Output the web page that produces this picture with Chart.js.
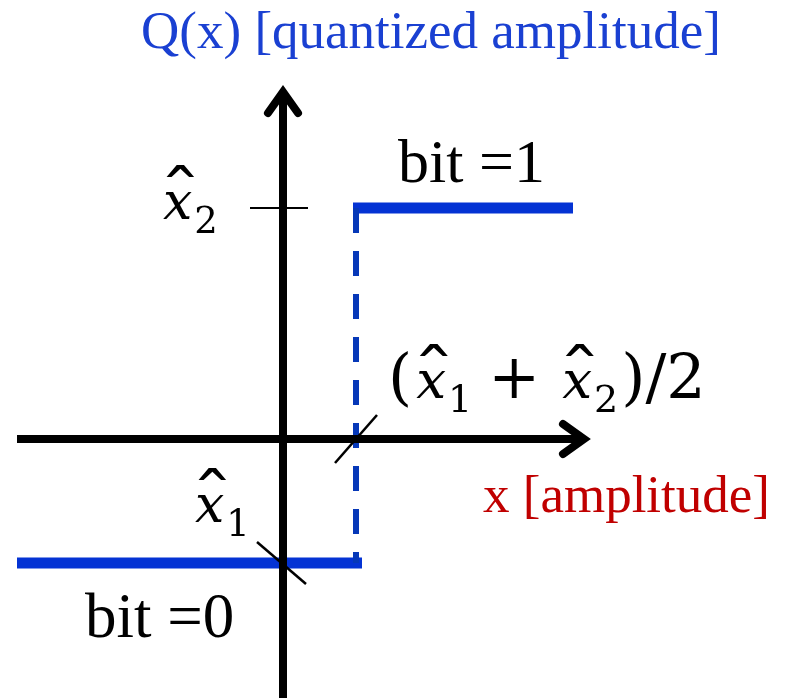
<!DOCTYPE html>
<html>
<head>
<meta charset="utf-8">
<script src="https://cdn.jsdelivr.net/npm/chart.js@4"></script>
<style>
  html, body { margin: 0; padding: 0; background: #fff; }
  #wrap { width: 786px; height: 698px; }
</style>
</head>
<body>
<div id="wrap"><canvas id="quantizer"></canvas></div>
<script>
// values (units: x = amplitude, y = Q(x), origin at the axes crossing)
const levels = [-124, 231];          // x̂1, x̂2
const threshold = 73;                // (x̂1 + x̂2)/2
const lowerStepX = [-266, 79];
const upperStepX = [70, 290];
const xAxisX = [-266, 301];
const yAxisY = [-259, 347];
const arrowBack = 21;                // arrow arm length along the axis
const arrowSpread = 15;
const tickHalf = [-33, 25];          // small tick on the y axis at x̂2
const slashMid = [[52, -24], [94, 24]];
const slashLow = [[-26, -103], [23, -145]];

const BLUE = '#0433d4';
const DASH_BLUE = '#0638b8';

function seg(xs, y) {
  return xs.map(x => ({ x, y }));
}

const datasets = [
  // axes
  { data: seg(xAxisX, 0), borderColor: '#000', borderWidth: 8 },
  { data: yAxisY.map(y => ({ x: 0, y })), borderColor: '#000', borderWidth: 8 },
  {
    data: [
      { x: xAxisX[1] - arrowBack, y: arrowSpread },
      { x: xAxisX[1], y: 0 },
      { x: xAxisX[1] - arrowBack, y: -arrowSpread }
    ],
    borderColor: '#000', borderWidth: 8, borderCapStyle: 'round', borderJoinStyle: 'miter'
  },
  {
    data: [
      { x: -arrowSpread, y: yAxisY[1] - arrowBack },
      { x: 0, y: yAxisY[1] },
      { x: arrowSpread, y: yAxisY[1] - arrowBack }
    ],
    borderColor: '#000', borderWidth: 8, borderCapStyle: 'round', borderJoinStyle: 'miter'
  },
  // tick marks
  { data: seg(tickHalf, levels[1]), borderColor: '#000', borderWidth: 2 },
  { data: slashMid.map(p => ({ x: p[0], y: p[1] })), borderColor: '#000', borderWidth: 2.5 },
  { data: slashLow.map(p => ({ x: p[0], y: p[1] })), borderColor: '#000', borderWidth: 2.5 },
  // quantizer
  { data: [{ x: threshold, y: levels[1] }, { x: threshold, y: levels[0] }],
    borderColor: DASH_BLUE, borderWidth: 6, borderDash: [25, 18] },
  { data: seg(lowerStepX, levels[0]), borderColor: BLUE, borderWidth: 11 },
  { data: seg(upperStepX, levels[1]), borderColor: BLUE, borderWidth: 11 }
];
datasets.forEach(d => {
  d.showLine = true;
  d.pointRadius = 0;
  d.fill = false;
});

// x with a wide hat and a subscript, returns the advance
function drawXhat(ctx, x, y, sub, size) {
  ctx.font = `italic ${size}px "DejaVu Serif"`;
  const w = ctx.measureText('x').width;
  ctx.fillText('x', x, y);
  ctx.font = `${size}px "DejaVu Serif"`;
  const hw = ctx.measureText('\u02c6').width * 1.7;
  ctx.save();
  ctx.translate(x + w / 2 - hw / 2 + size * 0.05, y - size * 0.04);
  ctx.scale(1.7, 1.25);
  ctx.fillText('\u02c6', 0, 0);
  ctx.restore();
  ctx.font = `${Math.round(size * 0.72)}px "DejaVu Serif"`;
  ctx.fillText(sub, x + w + 2, y + size * 0.26);
  return w + 2 + ctx.measureText(sub).width;
}

function drawMath(ctx, x, y, parts, size, upright) {
  let cx = x;
  parts.forEach(p => {
    if (p.xhat) {
      cx += drawXhat(ctx, cx, y, p.xhat, size);
    } else if (p.gap) {
      cx += p.gap;
    } else {
      ctx.font = `${upright}px "DejaVu Serif"`;
      ctx.fillText(p, cx, y);
      cx += ctx.measureText(p).width;
    }
  });
}

const textPlugin = {
  id: 'labels',
  afterDatasetsDraw(chart) {
    const ctx = chart.ctx;
    const sx = chart.scales.x, sy = chart.scales.y;
    const px = v => sx.getPixelForValue(v);
    const py = v => sy.getPixelForValue(v);
    ctx.save();
    ctx.textBaseline = 'alphabetic';

    const plain = [
      { t: 'Q(x) [quantized amplitude]', x: 148, y: 391, c: '#1a40d2', s: 53, a: 'center' },
      { t: 'bit =1', x: 115, y: 257, c: '#000', s: 62, a: 'left' },
      { t: 'bit =0', x: -198, y: -198, c: '#000', s: 63, a: 'left' },
      { t: 'x [amplitude]', x: 200, y: -73, c: '#c00000', s: 53, a: 'left' }
    ];
    plain.forEach(l => {
      ctx.font = `${l.s}px "Liberation Serif"`;
      ctx.fillStyle = l.c;
      ctx.textAlign = l.a;
      ctx.fillText(l.t, px(l.x), py(l.y));
    });

    ctx.textAlign = 'left';
    ctx.fillStyle = '#000';
    drawMath(ctx, px(-120), py(220), [{ xhat: '2' }], 52, 52);
    drawMath(ctx, px(-88), py(-83), [{ xhat: '1' }], 52, 52);
    drawMath(ctx, px(105), py(41),
      ['(', { gap: 4 }, { xhat: '1' }, { gap: 16 }, '+', { gap: 22 }, { xhat: '2' }, { gap: 3 }, ')/2'], 53, 62);
    ctx.restore();
  }
};

new Chart(document.getElementById('quantizer'), {
  type: 'scatter',
  data: { datasets },
  options: {
    responsive: true,
    maintainAspectRatio: false,
    animation: false,
    events: [],
    layout: { padding: 0 },
    plugins: { legend: { display: false }, tooltip: { enabled: false } },
    scales: {
      x: { type: 'linear', min: -283, max: 503, display: false },
      y: { type: 'linear', min: -259, max: 439, display: false }
    }
  },
  plugins: [textPlugin]
});
</script>
</body>
</html>
